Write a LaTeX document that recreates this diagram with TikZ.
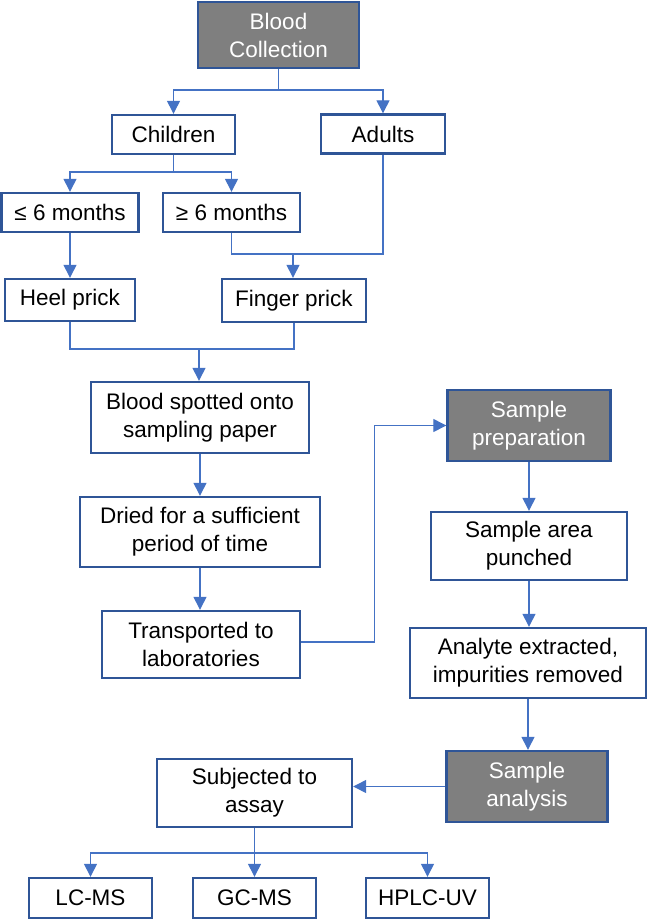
\documentclass[tikz,border=0pt]{standalone}
\usepackage{fontspec}
\setmainfont{Liberation Sans}
\usetikzlibrary{arrows.meta}
\definecolor{boxblue}{HTML}{2F5597}
\definecolor{linkblue}{HTML}{4472C4}
\definecolor{grayfill}{HTML}{7F7F7F}
\begin{document}
\begin{tikzpicture}[x=1pt,y=-1pt,
  box/.style={draw=boxblue, line width=2.4pt, fill=white, inner sep=0pt, align=center,
    font=\fontsize{22.5}{28}\selectfont, text=black},
  dark/.style={box, fill=grayfill, text=white},
  link/.style={draw=linkblue, line width=1.3pt},
  arr/.style={link, -{Triangle[length=13pt,width=13pt]}}]
\path[use as bounding box] (0,0) rectangle (646,919);

\node[dark, minimum width=161pt, minimum height=66pt] (bc) at (278.5,35) {Blood\\Collection};
\node[box, minimum width=123pt, minimum height=39pt] (children) at (173.5,134.5) {Children};
\node[box, minimum width=124pt, minimum height=39pt] (adults) at (383,134) {Adults};
\node[box, minimum width=137pt, minimum height=39pt] (le6) at (70,212.5) {≤ 6 months};
\node[box, minimum width=137pt, minimum height=39pt] (ge6) at (231.5,212.5) {≥ 6 months};
\node[box, minimum width=130pt, minimum height=42pt] (heel) at (70,300) {Heel prick};
\node[box, minimum width=144pt, minimum height=43pt] (finger) at (294,300.5) {Finger prick};
\node[box, minimum width=218pt, minimum height=71pt] (spotted) at (200,417.5) {Blood spotted onto\\sampling paper};
\node[box, minimum width=240pt, minimum height=70pt] (dried) at (200,532) {Dried for a sufficient\\period of time};
\node[box, minimum width=198pt, minimum height=67pt] (transp) at (201,644.5) {Transported to\\laboratories};
\node[dark, minimum width=163pt, minimum height=71pt] (prep) at (529,425.5) {Sample\\preparation};
\node[box, minimum width=196pt, minimum height=68pt] (punched) at (529,546) {Sample area\\punched};
\node[box, minimum width=236pt, minimum height=70pt] (analyte) at (528,663) {Analyte extracted,\\impurities removed};
\node[dark, minimum width=161pt, minimum height=71pt] (analysis) at (527,786.5) {Sample\\analysis};
\node[box, minimum width=195pt, minimum height=68pt] (assay) at (254.5,793) {Subjected to\\assay};
\node[box, minimum width=123pt, minimum height=40pt] (lcms) at (90.5,898) {LC-MS};
\node[box, minimum width=123pt, minimum height=40pt] (gcms) at (254.5,898) {GC-MS};
\node[box, minimum width=123pt, minimum height=40pt] (hplc) at (427.5,898) {HPLC-UV};

% coordinates for junctions
\coordinate (j1) at (278.5,90);
\coordinate (j2) at (173.5,172);
\coordinate (j3) at (293,254);
\coordinate (j4) at (199,349);
\coordinate (j5) at (374.6,642);
\coordinate (j6) at (254.5,853);

\draw[link] (bc.south) -- (j1);
\draw[arr] (j1) -| (children.north);
\draw[arr] (j1) -| (adults.north);

\draw[link] (children.south) -- (j2);
\draw[arr] (j2) -| (le6.north);
\draw[arr] (j2) -| (ge6.north);

\draw[arr] (le6.south) -- (heel.north);

\draw[link] (ge6.south) |- (j3);
\draw[link] (j3) -| (adults.south);
\draw[arr] (j3) -- (finger.north -| j3);

\draw[link] (heel.south) |- (j4);
\draw[link] (j4) -| (finger.south);
\draw[arr] (j4) -- (spotted.north -| j4);

\draw[arr] (spotted.south) -- (dried.north);
\draw[arr] (dried.south) -- (dried.south |- transp.north);

\draw[link] (transp.east |- j5) -- (j5);
\draw[arr] (j5) |- (prep.west);

\draw[arr] (prep.south) -- (punched.north);
\draw[arr] (punched.south) -- (punched.south |- analyte.north);
\draw[arr] (analyte.south) -- (analyte.south |- analysis.north);

\draw[arr] (analysis.west) -- (analysis.west -| assay.east);

\draw[link] (assay.south) -- (j6);
\draw[arr] (j6) -| (lcms.north);
\draw[arr] (j6) -- (gcms.north);
\draw[arr] (j6) -| (hplc.north);
\end{tikzpicture}
\end{document}
